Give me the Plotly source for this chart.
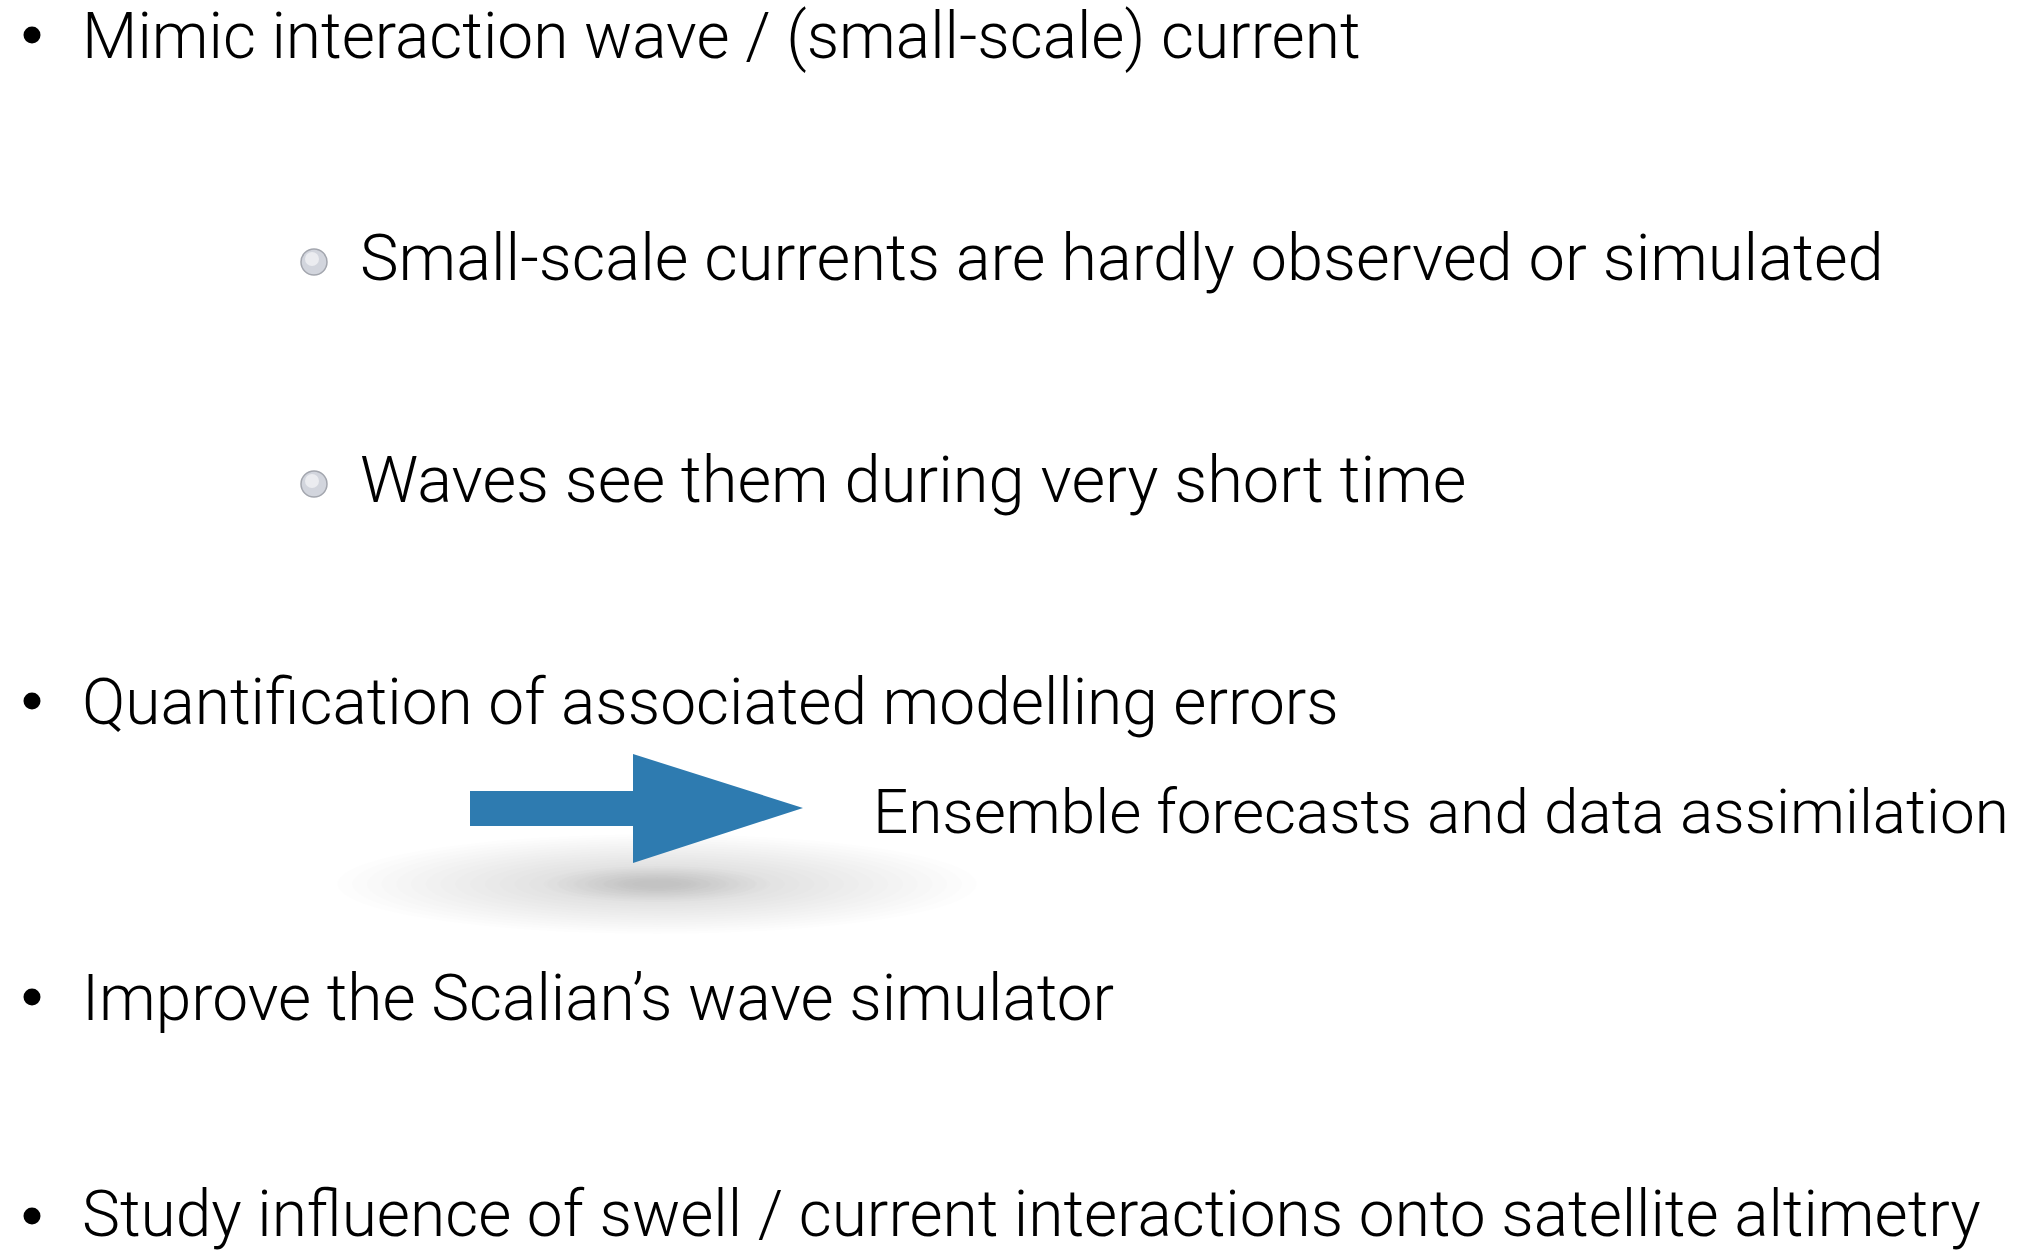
import plotly.graph_objects as go

W, H = 2019, 1252

# Slide content
main_items = [
    "Mimic interaction wave / (small-scale) current",
    "Quantification of associated modelling errors",
    "Improve the Scalian\u2019s wave simulator",
    "Study influence of swell / current interactions onto satellite altimetry",
]
sub_items = [
    "Small-scale currents are hardly observed or simulated",
    "Waves see them during very short time",
]
arrow_label = "Ensemble forecasts and data assimilation"

# Layout (pixel positions, y downward)
main_text_x = 80
main_text_y = [36, 702, 998, 1214]
main_bullet_x = 32
sub_text_x = 358
sub_text_y = [258, 480]
sub_bullet_x = 314
label_x = 871
label_y = 811

FONT = "Roboto"
WEIGHT = 300
MAIN_SIZE = 64
SUB_SIZE = 65
LABEL_SIZE = 62

fig = go.Figure()

# soft shadow under the arrow: stacked translucent ellipses
shadow_cx, shadow_cy = 657, 884
n_halo = 20
for i in range(n_halo):
    f = i / (n_halo - 1)
    rx = 320 - f * 280
    ry = 50 - f * 43
    fig.add_shape(type="circle", xref="x", yref="y",
                  x0=shadow_cx - rx, x1=shadow_cx + rx,
                  y0=shadow_cy - ry, y1=shadow_cy + ry,
                  fillcolor="rgba(0,0,0,0.009)", line=dict(width=0), layer="below")
n_core = 10
for i in range(n_core):
    f = i / (n_core - 1)
    rx = 110 - f * 85
    ry = 18 - f * 14
    fig.add_shape(type="circle", xref="x", yref="y",
                  x0=shadow_cx - rx, x1=shadow_cx + rx,
                  y0=shadow_cy - ry, y1=shadow_cy + ry,
                  fillcolor="rgba(0,0,0,0.008)", line=dict(width=0), layer="below")

# arrow
ax0, ax1, atip = 470, 633, 803
ay_top, ay_bot = 791, 826
hy_top, hy_bot, ty = 754, 863, 808
path = (f"M {ax0} {ay_top} L {ax1} {ay_top} L {ax1} {hy_top} L {atip} {ty} "
        f"L {ax1} {hy_bot} L {ax1} {ay_bot} L {ax0} {ay_bot} Z")
fig.add_shape(type="path", path=path, xref="x", yref="y",
              fillcolor="#2e7bb0", line=dict(width=0), layer="above")

# main bullets
fig.add_trace(go.Scatter(
    x=[main_bullet_x] * len(main_items),
    y=[y - 1 for y in main_text_y[:3]] + [main_text_y[3] + 2],
    mode="markers",
    marker=dict(size=17, color="black", symbol="circle"),
    hoverinfo="skip", showlegend=False))

# sub bullets (grey spheres)
fig.add_trace(go.Scatter(
    x=[sub_bullet_x] * len(sub_items),
    y=[y + 4 for y in sub_text_y],
    mode="markers",
    marker=dict(size=26, color="#d2d5dd", line=dict(color="#a3a6ae", width=1.5)),
    hoverinfo="skip", showlegend=False))
fig.add_trace(go.Scatter(
    x=[sub_bullet_x - 2] * len(sub_items),
    y=[y + 1 for y in sub_text_y],
    mode="markers",
    marker=dict(size=14, color="rgba(255,255,255,0.55)"),
    hoverinfo="skip", showlegend=False))

# texts
for txt, y in zip(main_items, main_text_y):
    fig.add_annotation(x=main_text_x, y=y, text=txt, showarrow=False,
                       xanchor="left", yanchor="middle", xref="x", yref="y",
                       font=dict(family=FONT, size=MAIN_SIZE, color="black", weight=WEIGHT))
for txt, y in zip(sub_items, sub_text_y):
    fig.add_annotation(x=sub_text_x, y=y, text=txt, showarrow=False,
                       xanchor="left", yanchor="middle", xref="x", yref="y",
                       font=dict(family=FONT, size=SUB_SIZE, color="black", weight=WEIGHT))
fig.add_annotation(x=label_x, y=label_y, text=arrow_label, showarrow=False,
                   xanchor="left", yanchor="middle", xref="x", yref="y",
                   font=dict(family=FONT, size=LABEL_SIZE, color="black", weight=WEIGHT))

fig.update_layout(
    width=W, height=H, margin=dict(l=0, r=0, t=0, b=0),
    paper_bgcolor="white", plot_bgcolor="white",
    xaxis=dict(range=[0, W], visible=False, fixedrange=True),
    yaxis=dict(range=[H, 0], visible=False, fixedrange=True),
    showlegend=False,
)

fig.write_html("out.html", config={"displayModeBar": False},
               post_script="document.body.style.margin='0';document.body.style.overflow='hidden';")
